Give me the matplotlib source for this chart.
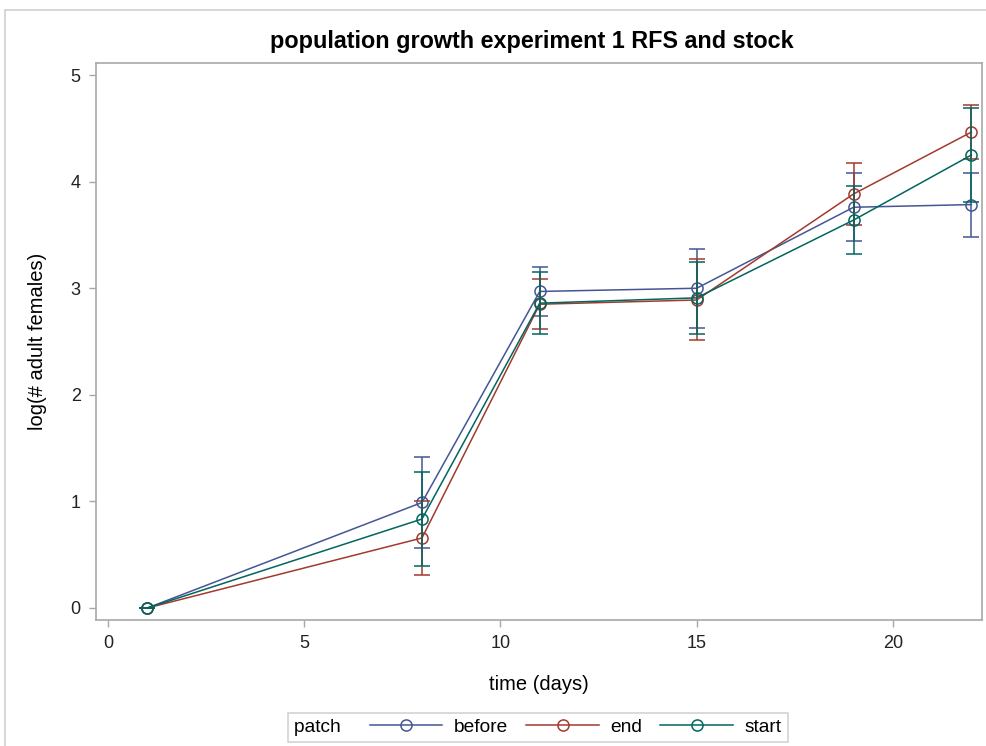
import matplotlib.pyplot as plt
from matplotlib.patches import Rectangle

plt.rcParams['font.family'] = ['Liberation Sans', 'DejaVu Sans']

days = [1, 8, 11, 15, 19, 22]

before = [0, 0.99, 2.97, 3.00, 3.76, 3.785]
before_err = [0, 0.43, 0.23, 0.37, 0.32, 0.30]

end = [0, 0.657, 2.85, 2.89, 3.885, 4.465]
end_err = [0, 0.35, 0.235, 0.38, 0.29, 0.255]

start = [0, 0.835, 2.86, 2.91, 3.64, 4.25]
start_err = [0, 0.44, 0.29, 0.34, 0.315, 0.44]

groups = ['before', 'end', 'start']
colors = ['#445694', '#A23A2E', '#01665E']

fig = plt.figure(figsize=(9.87, 7.46), dpi=100)
ax = fig.add_axes([0.0973, 0.1689, 0.8976, 0.7466])

series = [(before, before_err), (end, end_err), (start, start_err)]
handles = []
for (vals, errs), name, col in zip(series, groups, colors):
    ax.errorbar(days, vals, yerr=errs, fmt='none', ecolor=col, elinewidth=1.1,
                capsize=6, capthick=1.1)
    h, = ax.plot(days, vals, color=col, lw=1.1, marker='o', ms=8,
                 mfc='none', mec=col, mew=1.1, label=name)
    handles.append(h)

ax.set_xlim(-0.306, 22.27)
ax.set_ylim(-0.1126, 5.113)
ax.set_xticks([0, 5, 10, 15, 20])
ax.set_yticks([0, 1, 2, 3, 4, 5])

for s in ax.spines.values():
    s.set_color('#a8a8a8')
    s.set_linewidth(1.2)
ax.tick_params(direction='out', length=5, width=1.0, color='#a8a8a8',
               labelsize=13, labelcolor='#222222', pad=6)

ax.set_xlabel('time (days)', fontsize=14.5, labelpad=16)
ax.set_ylabel('log(# adult females)', fontsize=14.5, labelpad=17)
fig.text(0.539, 0.945, 'population growth experiment 1 RFS and stock',
         ha='center', va='center', fontsize=16.8, fontweight='bold')

leg = fig.legend(handles=handles, labels=groups, title='patch  ', ncol=3,
                 loc='lower center', bbox_to_anchor=(0.545, 0.006),
                 borderaxespad=0, fontsize=13.8, title_fontsize=13.8,
                 frameon=True, fancybox=False, edgecolor='#c8c8c8',
                 handlelength=3.8, handletextpad=0.6, borderpad=0.3)
leg.get_frame().set_linewidth(1.2)

# put the legend title on the same row as the entries
box = leg.get_children()[0]
title_box = box.get_children()[0]
entries = box.get_children()[1]
box._children = [entries]
entries._children = [title_box] + entries.get_children()
entries.sep = 13

# light frame around the whole graph
fig.patches.append(Rectangle((5 / 987, -0.05), 1.2, (736 / 746) + 0.05,
                             transform=fig.transFigure, fill=False,
                             edgecolor='#d0d0d0', linewidth=1.2))

fig.savefig('out.png', dpi=100)
